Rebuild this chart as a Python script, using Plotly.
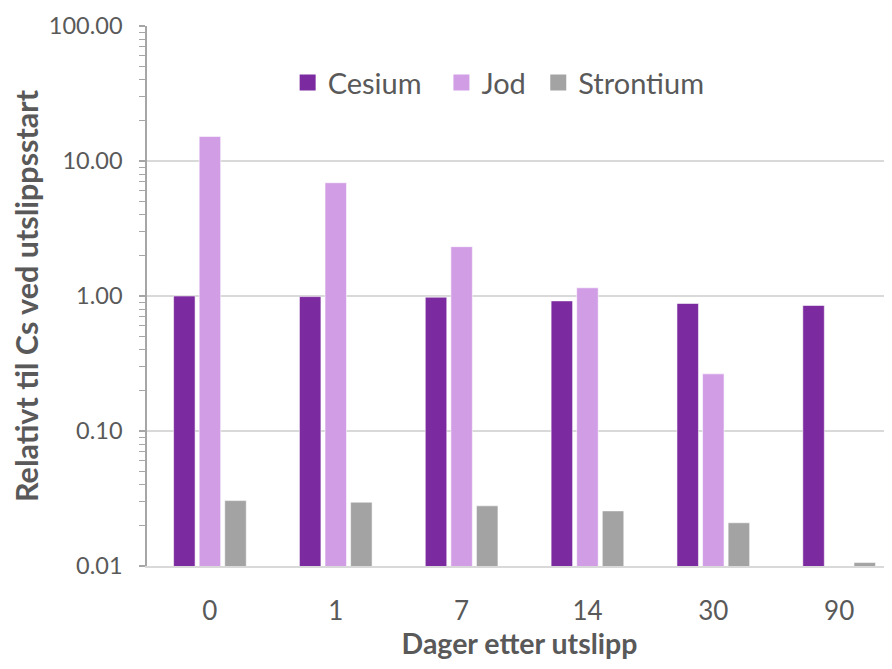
import plotly.graph_objects as go

days = ["0", "1", "7", "14", "30", "90"]
cesium = [1.00, 0.99, 0.98, 0.92, 0.88, 0.85]
jod = [15.2, 6.9, 2.32, 1.15, 0.265, None]
strontium = [0.0305, 0.0297, 0.0279, 0.0256, 0.0209, 0.0106]

series_names = ["Cesium", "Jod", "Strontium"]
legend_pad = ["\u00a0\u00a0", "\u00a0", ""]
colors = ["#7B2A9F", "#D19EE6", "#A3A3A3"]

y_tickvals = [0.01, 0.1, 1, 10, 100]
y_ticktext = ["0.01", "0.10", "1.00", "10.00", "100.00"]

FONT = "Lato"
GREY = "#595959"

fig = go.Figure()
for name, vals, col in zip(series_names, [cesium, jod, strontium], colors):
    fig.add_trace(go.Bar(
        x=days, y=vals, name=name, showlegend=False,
        marker=dict(color=col, line=dict(color="rgba(255,255,255,0.55)", width=1)),
    ))
for name, pad, col in zip(series_names, legend_pad, colors):
    fig.add_trace(go.Scatter(
        x=[None], y=[None], mode="markers", name=name + pad,
        marker=dict(symbol="square", size=16, color=col),
    ))

# page body has an 8px default margin, so the figure is offset by 8px
fig.update_layout(
    width=884, height=661,
    margin=dict(l=139, r=0, t=18, b=103),
    paper_bgcolor="white", plot_bgcolor="white",
    barmode="group", bargap=0.39, bargroupgap=0.16,
    font=dict(family=FONT, color=GREY),
    legend=dict(
        orientation="h", x=0.472, xanchor="center", y=0.895, yanchor="middle",
        font=dict(size=29, color=GREY), bgcolor="rgba(0,0,0,0)",
        itemsizing="trace",
    ),
    xaxis=dict(
        type="category", range=[-0.5, 5.42], automargin=False,
        showline=True, linecolor="#D9D9D9", linewidth=1.5,
        ticks="", showgrid=False,
        tickfont=dict(size=26, color=GREY),
        ticklabelstandoff=21,
        title=dict(text="<b>Dager etter utslipp</b>", font=dict(size=28.5, color=GREY), standoff=6),
    ),
    yaxis=dict(
        type="log", range=[-2, 2], automargin=False,
        tickvals=y_tickvals, ticktext=y_ticktext,
        showline=True, linecolor="#A6A6A6", linewidth=1.5,
        ticks="outside", ticklen=6, tickcolor="#A6A6A6", tickwidth=1.5,
        showgrid=True, gridcolor="#D9D9D9", gridwidth=1.5,
        minor=dict(ticks="outside", ticklen=6, tickcolor="#A6A6A6", tickwidth=1, dtick="D1", showgrid=False),
        tickfont=dict(size=23.5, color=GREY),
        ticklabelstandoff=12,
        title=dict(text="<b>Relativt til Cs ved utslippsstart</b>", font=dict(size=30.5, color=GREY), standoff=12),
        zeroline=False,
    ),
)

fig.write_html("out.html")
